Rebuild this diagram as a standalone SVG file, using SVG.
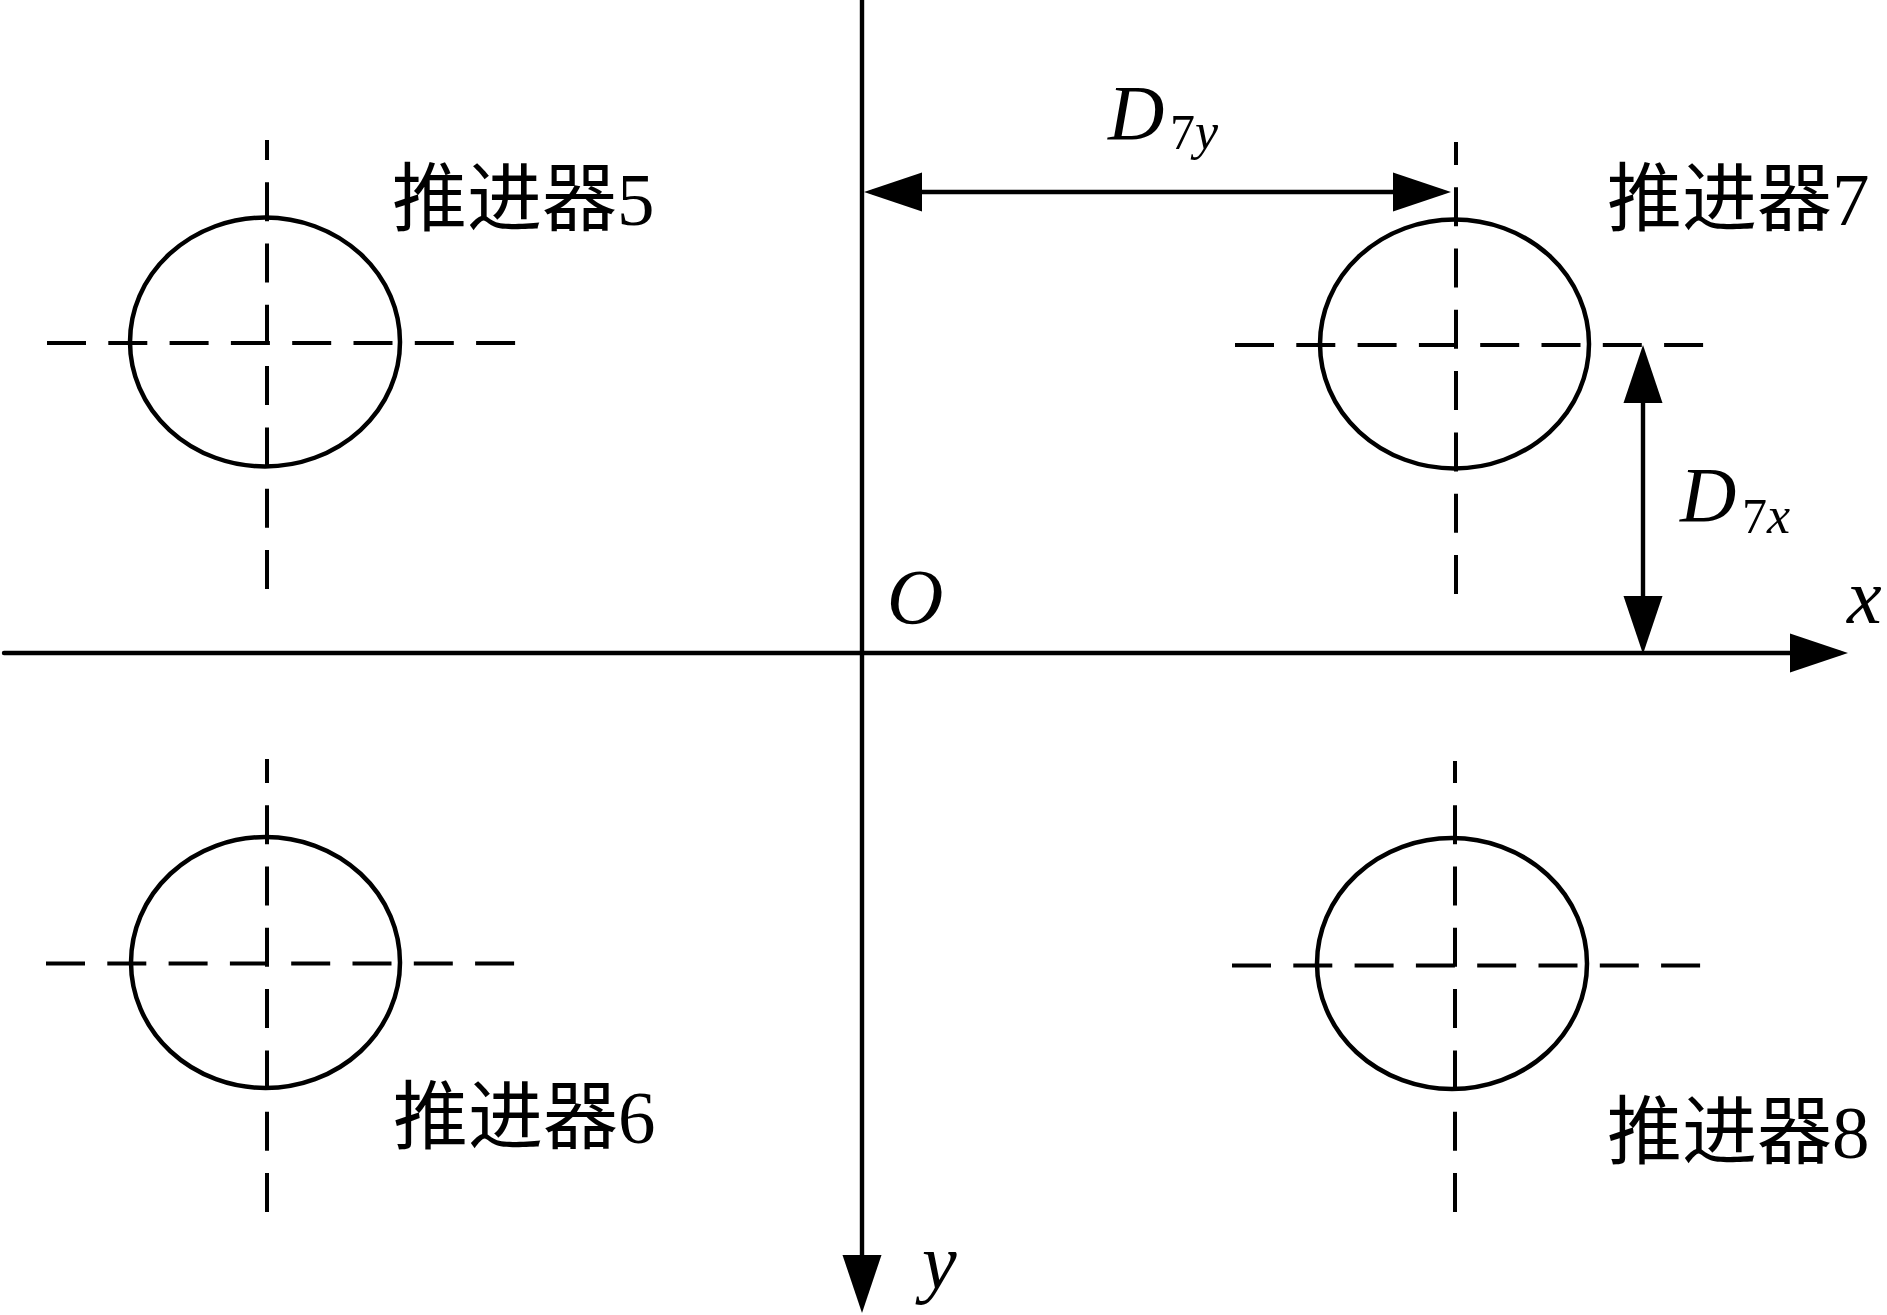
<svg xmlns="http://www.w3.org/2000/svg" width="1887" height="1315" viewBox="0 0 1887 1315">
<style>
.axis{stroke:#000;stroke-width:4.4;fill:none;stroke-linecap:round}
.dim{stroke:#000;stroke-width:4.4;fill:none}
.ring{stroke:#000;stroke-width:4.5;fill:none}
.cl{stroke:#000;stroke-width:4;fill:none;stroke-dasharray:39 22.3}
.lbl{font-family:"Liberation Serif","Noto Sans CJK SC",serif;font-size:75px;fill:#000}
.it{font-family:"Liberation Serif",serif;font-style:italic;font-size:78px;fill:#000}
.sub{font-family:"Liberation Serif",serif;font-size:50px;fill:#000}
.subi{font-family:"Liberation Serif",serif;font-style:italic;font-size:52px;fill:#000}
</style>
<defs>
<marker id="ah" viewBox="0 0 58 40" refX="50" refY="20" markerWidth="58" markerHeight="40" markerUnits="userSpaceOnUse" orient="auto-start-reverse">
<path d="M0,0.5 L58,20 L0,39.5 Z" fill="#000"/>
</marker>
</defs>
<g id="connectors">
<line id="x-axis" class="axis" x1="4" y1="653" x2="1840" y2="653" marker-end="url(#ah)"/>
<line id="y-axis" class="axis" x1="862" y1="0" x2="862" y2="1305" marker-end="url(#ah)" style="stroke-linecap:butt"/>
<line id="dim-D7y" class="dim" x1="872" y1="192" x2="1443" y2="192" marker-start="url(#ah)" marker-end="url(#ah)"/>
<line id="dim-D7x" class="dim" x1="1643" y1="353" x2="1643" y2="646" marker-start="url(#ah)" marker-end="url(#ah)"/>
</g>
<g id="thruster5">
<ellipse class="ring" cx="265" cy="342" rx="135" ry="124.5"/>
<line class="cl" x1="47" y1="343" x2="516" y2="343"/>
<line class="cl" x1="267" y1="589" x2="267" y2="140"/>
<text class="lbl" x="392" y="225">推进器5</text>
</g>
<g id="thruster7">
<ellipse class="ring" cx="1454.5" cy="344" rx="134.5" ry="124.5"/>
<line class="cl" x1="1235" y1="345" x2="1706" y2="345"/>
<line class="cl" x1="1456" y1="594" x2="1456" y2="142"/>
<text class="lbl" x="1607" y="225">推进器7</text>
</g>
<g id="thruster6">
<ellipse class="ring" cx="265.5" cy="962.5" rx="134.5" ry="125.5"/>
<line class="cl" x1="46" y1="963.5" x2="517" y2="963.5"/>
<line class="cl" x1="267" y1="1212" x2="267" y2="759"/>
<text class="lbl" x="393" y="1143">推进器6</text>
</g>
<g id="thruster8">
<ellipse class="ring" cx="1452" cy="963.5" rx="135" ry="125.5"/>
<line class="cl" x1="1232" y1="965.5" x2="1704" y2="965.5"/>
<line class="cl" x1="1455" y1="1212" x2="1455" y2="761"/>
<text class="lbl" x="1607" y="1158">推进器8</text>
</g>
<g id="labels">
<text class="it" x="887" y="623">O</text>
<text class="it" x="1847" y="623">x</text>
<text class="it" x="922" y="1288">y</text>
<text id="D7y"><tspan class="it" x="1108" y="139">D</tspan><tspan class="sub" x="1170" y="149">7</tspan><tspan class="subi" x="1195" y="149">y</tspan></text>
<text id="D7x"><tspan class="it" x="1680" y="521">D</tspan><tspan class="sub" x="1742" y="533">7</tspan><tspan class="subi" x="1767" y="533">x</tspan></text>
</g>
</svg>
